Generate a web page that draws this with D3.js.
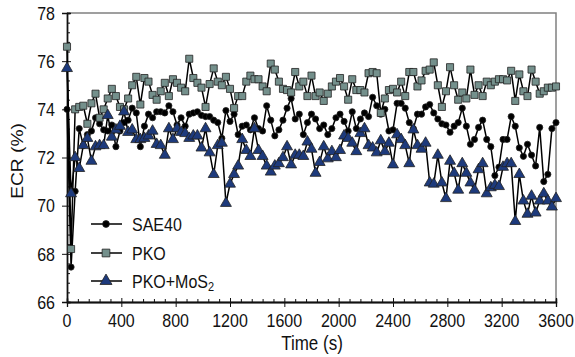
<!DOCTYPE html>
<html>
<head>
<meta charset="utf-8">
<script src="https://cdn.jsdelivr.net/npm/d3@7"></script>
<style>
  body { margin: 0; background: #fff; }
  svg text { font-family: Arial, "Liberation Sans", sans-serif; fill: #111; }
</style>
</head>
<body>
<div id="chart"></div>
<script>
// time stamps (s), one reading every 30 s
const time = [
  0, 30, 60, 90, 120, 150, 180, 210, 240, 270, 300, 330, 360, 390, 420, 450, 480, 510, 540, 570,
  600, 630, 660, 690, 720, 750, 780, 810, 840, 870, 900, 930, 960, 990, 1020, 1050, 1080, 1110, 1140, 1170,
  1200, 1230, 1260, 1290, 1320, 1350, 1380, 1410, 1440, 1470, 1500, 1530, 1560, 1590, 1620, 1650, 1680, 1710, 1740, 1770,
  1800, 1830, 1860, 1890, 1920, 1950, 1980, 2010, 2040, 2070, 2100, 2130, 2160, 2190, 2220, 2250, 2280, 2310, 2340, 2370,
  2400, 2430, 2460, 2490, 2520, 2550, 2580, 2610, 2640, 2670, 2700, 2730, 2760, 2790, 2820, 2850, 2880, 2910, 2940, 2970,
  3000, 3030, 3060, 3090, 3120, 3150, 3180, 3210, 3240, 3270, 3300, 3330, 3360, 3390, 3420, 3450, 3480, 3510, 3540, 3570,
  3600
];

const sae40 = [
  74.0, 67.45, 70.6, 73.2, 72.5, 72.95, 73.1, 73.65, 73.4, 73.15, 73.1, 73.35, 72.45, 73.1, 73.45, 73.55, 74.05, 73.85, 72.45, 73.3,
  73.8, 73.65, 73.9, 73.9, 73.85, 74.15, 73.9, 73.35, 73.65, 73.3, 73.8, 73.85, 73.9, 73.75, 73.7, 73.7, 73.55, 73.45, 72.8, 73.95,
  73.5, 73.8, 72.95, 73.3, 73.35, 73.15, 73.65, 73.2, 73.1, 74.15, 73.55, 72.9, 73.15, 73.55, 74.05, 74.45, 73.6, 73.8, 72.95, 73.45,
  73.8, 73.6, 73.2, 73.35, 72.95, 73.2, 73.65, 73.8, 73.5, 73.1, 73.9, 73.2, 73.6, 73.85, 73.7, 74.5, 74.15, 73.8, 74.0, 73.1,
  73.15, 74.25, 74.25, 74.05, 73.45, 73.2, 73.8, 73.8, 74.1, 74.2, 73.85, 73.6, 73.4, 73.35, 73.05, 73.3, 73.45, 74.05, 73.3, 72.55,
  72.75, 73.25, 73.55, 72.75, 72.45, 71.25, 71.6, 72.75, 72.75, 73.7, 73.3, 72.4, 72.05, 72.55, 72.1, 71.65, 73.25, 71.0, 71.3, 73.2,
  73.45
];

const pko = [
  76.6, 68.2, 74.0, 74.1, 74.15, 73.4, 74.25, 74.65, 73.65, 74.0, 74.45, 74.85, 74.55, 74.1, 74.0, 74.45, 75.0, 75.35, 74.2, 75.3,
  75.15, 74.6, 74.4, 74.75, 75.1, 74.55, 75.25, 75.1, 74.9, 74.75, 76.1, 75.3, 75.1, 74.9, 74.1, 75.05, 75.7, 75.15, 75.0, 75.35,
  74.85, 74.05, 74.55, 74.55, 75.15, 75.4, 75.25, 75.25, 74.95, 74.75, 75.9, 75.65, 75.15, 74.85, 74.8, 74.7, 75.55, 74.95, 75.15, 74.55,
  75.4, 74.55, 74.7, 74.35, 74.65, 74.95, 75.15, 75.3, 74.95, 74.4, 75.25, 74.8, 74.8, 74.7, 75.5, 75.55, 75.5, 73.85, 74.45, 74.8,
  74.85, 74.7, 75.15, 74.55, 75.55, 75.55, 74.95, 75.2, 75.6, 75.65, 75.95, 75.0, 74.1, 74.75, 75.75, 75.0, 74.4, 74.7, 74.45, 75.65,
  74.6, 75.0, 74.55, 75.15, 75.0, 75.15, 75.25, 75.25, 75.2, 75.6, 74.35, 75.45, 74.75, 74.55, 75.65, 75.15, 74.65, 74.75, 74.9, 74.9,
  74.95
];

const pkoMos2 = [
  75.7, 70.5, 72.0, 71.55, 72.5, 72.8, 71.85, 72.45, 72.5, 72.5, 73.75, 72.85, 73.15, 73.3, 73.9, 73.05, 73.15, 72.75, 72.75, 72.8,
  72.9, 73.1, 72.55, 72.5, 72.1, 73.2, 72.75, 73.2, 73.05, 73.0, 72.8, 72.9, 72.9, 72.4, 73.2, 72.2, 71.3, 72.5, 72.6, 70.1,
  70.9, 71.3, 71.65, 72.75, 72.3, 72.05, 73.2, 72.3, 72.05, 71.65, 71.4, 71.65, 71.75, 72.0, 72.45, 71.7, 72.1, 72.1, 72.05, 72.65,
  72.35, 71.35, 71.8, 72.45, 71.95, 72.25, 72.0, 72.3, 72.9, 72.8, 72.6, 72.25, 73.0, 73.2, 72.5, 72.4, 72.2, 72.7, 72.25, 72.6,
  71.7, 72.95, 72.75, 72.5, 71.75, 73.15, 72.5, 72.35, 72.6, 70.95, 70.9, 72.1, 70.95, 70.3, 71.85, 71.35, 70.65, 71.75, 71.35, 70.95,
  70.65, 71.5, 71.75, 70.5, 70.75, 70.85, 70.8, 71.6, 71.75, 71.75, 69.35, 71.3, 70.2, 69.65, 70.4, 69.7, 70.2, 70.5, 70.2, 69.95,
  70.3
];

const xTicks = [0, 400, 800, 1200, 1600, 2000, 2400, 2800, 3200, 3600];
const yTicks = [66, 68, 70, 72, 74, 76, 78];

const width = 575, height = 357;
const m = { left: 67, right: 556, top: 13, bottom: 302 };

const svg = d3.select('#chart').append('svg')
    .attr('width', width).attr('height', height);

const x = d3.scaleLinear().domain([0, 3600]).range([m.left, m.right]);
const y = d3.scaleLinear().domain([66, 78]).range([m.bottom, m.top]);

// frame: top and right in grey
svg.append('path')
    .attr('d', `M${m.left},${m.top}H${m.right}V${m.bottom}`)
    .attr('fill', 'none').attr('stroke', '#808080').attr('stroke-width', 1.5);

// axes - major ticks outward, plus inward major/minor ticks
const xMinor = d3.range(0, 3601, 80).filter(v => v % 400 !== 0);
const yMinor = d3.range(66, 78.01, 0.4).filter(v => Math.abs(v / 2 - Math.round(v / 2)) > 0.01);

function styleAxis(g) {
  g.select('.domain').attr('stroke', '#111').attr('stroke-width', 1.3);
  g.selectAll('.tick line').attr('stroke', '#111').attr('stroke-width', 1);
  g.selectAll('.tick text').remove();
}

svg.append('g').attr('transform', `translate(0,${m.bottom})`)
    .call(d3.axisBottom(x).tickValues(xTicks).tickSizeOuter(0).tickSize(5)).call(styleAxis);
svg.append('g').attr('transform', `translate(0,${m.bottom})`)
    .call(d3.axisBottom(x).tickValues(xTicks).tickSizeOuter(0).tickSize(-4)).call(styleAxis);
svg.append('g').attr('transform', `translate(0,${m.bottom})`)
    .call(d3.axisBottom(x).tickValues(xMinor).tickSizeOuter(0).tickSize(-3)).call(styleAxis);

svg.append('g').attr('transform', `translate(${m.left},0)`)
    .call(d3.axisLeft(y).tickValues(yTicks).tickSizeOuter(0).tickSize(5)).call(styleAxis);
svg.append('g').attr('transform', `translate(${m.left},0)`)
    .call(d3.axisLeft(y).tickValues(yTicks).tickSizeOuter(0).tickSize(-4)).call(styleAxis);
svg.append('g').attr('transform', `translate(${m.left},0)`)
    .call(d3.axisLeft(y).tickValues(yMinor).tickSizeOuter(0).tickSize(-3)).call(styleAxis);

// tick labels (the source figure is stretched vertically a little)
svg.append('g').selectAll('text')
  .data(xTicks)
  .enter().append('text')
    .attr('transform', d => `translate(${x(d)},${m.bottom + 24.5}) scale(1,1.2)`)
    .attr('text-anchor', 'middle')
    .attr('font-size', 16)
    .text(d => d);

svg.append('g').selectAll('text')
  .data(yTicks)
  .enter().append('text')
    .attr('transform', d => `translate(${m.left - 12},${y(d) + 6.8}) scale(1,1.2)`)
    .attr('text-anchor', 'end')
    .attr('font-size', 16)
    .text(d => d);

// axis titles
svg.append('text')
    .attr('transform', `translate(312,350) scale(1,1.15)`)
    .attr('text-anchor', 'middle').attr('font-size', 17)
    .text('Time (s)');
svg.append('text')
    .attr('transform', `translate(23,161) rotate(-90) scale(1.2,1)`)
    .attr('text-anchor', 'middle').attr('font-size', 16)
    .text('ECR (%)');

// series
const series = [
  { name: 'SAE40', values: sae40, shape: d3.symbolCircle, size: 30, fill: '#000' },
  { name: 'PKO', values: pko, shape: d3.symbolSquare, size: 50, fill: '#74908c' },
  { name: 'PKO+MoS2', values: pkoMos2, shape: d3.symbolTriangle, size: 52, fill: '#1d3a7c' }
];

const line = d3.line().x(d => x(d[0])).y(d => y(d[1]));

series.forEach(s => {
  const pts = time.map((t, i) => [t, s.values[i]]);
  const g = svg.append('g');
  g.append('path')
      .attr('d', line(pts))
      .attr('fill', 'none').attr('stroke', '#000').attr('stroke-width', 1.5);
  g.selectAll('path.mark')
    .data(pts)
    .enter().append('path')
      .attr('class', 'mark')
      .attr('transform', d => `translate(${x(d[0])},${y(d[1])})`)
      .attr('d', d3.symbol().type(s.shape).size(s.size))
      .attr('fill', s.fill)
      .attr('stroke', '#222').attr('stroke-width', 0.8);
});

// legend
const legendY = [224, 253, 281];
const legend = svg.append('g');
series.forEach((s, i) => {
  const ly = legendY[i];
  legend.append('line')
      .attr('x1', 91).attr('x2', 122).attr('y1', ly).attr('y2', ly)
      .attr('stroke', '#000').attr('stroke-width', 1.5);
  legend.append('path')
      .attr('transform', `translate(106,${ly})`)
      .attr('d', d3.symbol().type(s.shape).size(s.size * 1.2))
      .attr('fill', s.fill).attr('stroke', '#222').attr('stroke-width', 0.8);
  const t = legend.append('text')
      .attr('transform', `translate(132,${ly + 6.8}) scale(1,1.2)`)
      .attr('font-size', 16);
  if (s.name === 'PKO+MoS2') {
    t.append('tspan').text('PKO+MoS');
    t.append('tspan').attr('font-size', 11).attr('dy', 3).text('2');
  } else {
    t.text(s.name);
  }
});
</script>
</body>
</html>
